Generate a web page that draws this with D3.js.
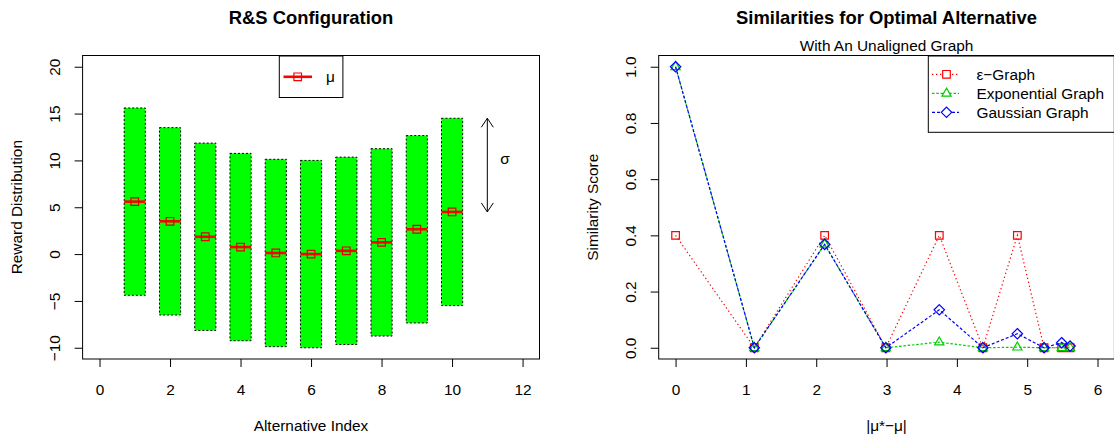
<!DOCTYPE html>
<html>
<head>
<meta charset="utf-8">
<title>R&amp;S Configuration</title>
<script src="https://d3js.org/d3.v7.min.js"></script>
<style>
body { margin:0; background:#fff; }
svg { display:block; font-family:"Liberation Sans", Arial, Helvetica, sans-serif; }
.title { font-size:18.4px; font-weight:bold; }
.lab { font-size:15.4px; fill:#000; }
.axis text { font-size:15.4px; fill:#000; font-family:"Liberation Sans", Arial, sans-serif; }
.axis line { stroke:#000; stroke-width:1; }
</style>
</head>
<body>
<svg id="chart" width="1114" height="437"></svg>
<script>
// ---------- left panel data ----------
var altIndex = [1, 2, 3, 4, 5, 6, 7, 8, 9, 10];
var rewardMean = [5.6, 3.5, 1.85, 0.75, 0.12, 0.0, 0.35, 1.25, 2.65, 4.5];
var rewardSd = [10, 10, 10, 10, 10, 10, 10, 10, 10, 10];
var leftXTicks = [0, 2, 4, 6, 8, 10, 12];
var leftYTicks = [-10, -5, 0, 5, 10, 15, 20];

// ---------- right panel data ----------
var muDiff = [0, 1.12, 2.12, 2.99, 3.75, 4.37, 4.86, 5.24, 5.49, 5.61];
var epsScore = [0.4, 0, 0.4, 0, 0.4, 0, 0.4, 0, 0, 0];
var expScore = [1.0, 0, 0.368, 0, 0.02, 0, 0.002, 0, 0, 0];
var gaussScore = [1.0, 0, 0.368, 0, 0.135, 0, 0.05, 0, 0.018, 0.006];
var rightXTicks = [0, 1, 2, 3, 4, 5, 6];
var rightYTicks = [0, 0.2, 0.4, 0.6, 0.8, 1.0];
var seriesNames = ["\u03b5\u2212Graph", "Exponential Graph", "Gaussian Graph"];

var svg = d3.select("#chart");
var plotTop = 55.5, plotBottom = 359;

// R-style markers (open symbols)
function marker(shape, x, y) {
    var p = d3.path();
    if (shape == "square") {
        var h = 3.8;
        p.rect(x - h, y - h, 2 * h, 2 * h);
    } else if (shape == "triangle") {
        p.moveTo(x, y - 5.2);
        p.lineTo(x + 4.6, y + 2.8);
        p.lineTo(x - 4.6, y + 2.8);
        p.closePath();
    } else {
        var r = 5.2;
        p.moveTo(x, y - r);
        p.lineTo(x + r, y);
        p.lineTo(x, y + r);
        p.lineTo(x - r, y);
        p.closePath();
    }
    return p.toString();
}

function drawAxes(x, y, xt, yt, yfmt) {
    var r = x.range();
    var gx = svg.append("g").attr("class", "axis")
        .attr("transform", "translate(0," + plotBottom + ")")
        .call(d3.axisBottom(x).tickValues(xt).tickSize(8).tickFormat(d3.format("d")));
    gx.select(".domain").remove();
    gx.selectAll(".tick text").attr("dy", null).attr("y", 35.5);

    var gy = svg.append("g").attr("class", "axis")
        .attr("transform", "translate(" + r[0] + ",0)")
        .call(d3.axisLeft(y).tickValues(yt).tickSize(8).tickFormat(yfmt));
    gy.select(".domain").remove();
    gy.selectAll(".tick text")
        .attr("x", null).attr("dy", null)
        .attr("text-anchor", "middle")
        .attr("transform", "translate(-22.6,0) rotate(-90)");

    svg.append("rect")
        .attr("x", r[0]).attr("y", plotTop)
        .attr("width", r[1] - r[0]).attr("height", plotBottom - plotTop)
        .attr("fill", "none").attr("stroke", "#000").attr("stroke-width", 1);
}

// ==================== Left: R&S Configuration ====================
var xL = d3.scaleLinear().domain([-0.48, 12.48]).range([82.6, 539.5]);
var yL = d3.scaleLinear().domain([-11.2, 21.2]).range([plotBottom, plotTop]);

svg.selectAll(".bar")
    .data(altIndex)
    .enter().append("rect")
    .attr("class", "bar")
    .attr("x", function(d) { return xL(d - 0.3); })
    .attr("width", function(d) { return xL(d + 0.3) - xL(d - 0.3); })
    .attr("y", function(d, i) { return yL(rewardMean[i] + rewardSd[i]); })
    .attr("height", function(d, i) { return yL(rewardMean[i] - rewardSd[i]) - yL(rewardMean[i] + rewardSd[i]); })
    .attr("fill", "#00ff00")
    .attr("stroke", "#000")
    .attr("stroke-width", 1)
    .attr("stroke-dasharray", "2,2");

svg.selectAll(".mean-line")
    .data(altIndex)
    .enter().append("line")
    .attr("class", "mean-line")
    .attr("x1", function(d) { return xL(d - 0.3); })
    .attr("x2", function(d) { return xL(d + 0.3); })
    .attr("y1", function(d, i) { return yL(rewardMean[i]); })
    .attr("y2", function(d, i) { return yL(rewardMean[i]); })
    .attr("stroke", "#ff0000")
    .attr("stroke-width", 2.6);

svg.selectAll(".mean-pt")
    .data(altIndex)
    .enter().append("path")
    .attr("class", "mean-pt")
    .attr("d", function(d, i) { return marker("square", xL(d), yL(rewardMean[i])); })
    .attr("fill", "none")
    .attr("stroke", "#e00000")
    .attr("stroke-width", 1.2);

drawAxes(xL, yL, leftXTicks, leftYTicks, d3.format("d"));

// sigma arrow
var ax = xL(11), ay1 = yL(14.5), ay2 = yL(4.5);
svg.append("line").attr("x1", ax).attr("x2", ax).attr("y1", ay1).attr("y2", ay2)
    .attr("stroke", "#000").attr("stroke-width", 1);
svg.append("path")
    .attr("d", "M" + (ax - 6) + "," + (ay1 + 9) + "L" + ax + "," + ay1 + "L" + (ax + 6) + "," + (ay1 + 9) +
               "M" + (ax - 6) + "," + (ay2 - 9) + "L" + ax + "," + ay2 + "L" + (ax + 6) + "," + (ay2 - 9))
    .attr("fill", "none").attr("stroke", "#000").attr("stroke-width", 1);
svg.append("text").attr("class", "lab")
    .attr("x", xL(11.5)).attr("y", yL(10) + 4)
    .attr("text-anchor", "middle").text("\u03c3");

// legend
svg.append("rect").attr("x", 279.3).attr("y", 56).attr("width", 63.6).attr("height", 41.5)
    .attr("fill", "#fff").attr("stroke", "#000").attr("stroke-width", 1);
svg.append("line").attr("x1", 283.5).attr("x2", 312).attr("y1", 76.8).attr("y2", 76.8)
    .attr("stroke", "#ff0000").attr("stroke-width", 2.6);
svg.append("path").attr("d", marker("square", 297.7, 76.8))
    .attr("fill", "none").attr("stroke", "#ff0000").attr("stroke-width", 1.2);
svg.append("text").attr("class", "lab").attr("x", 326).attr("y", 81.5).text("\u03bc");

svg.append("text").attr("class", "title").attr("x", 311).attr("y", 24)
    .attr("text-anchor", "middle").text("R&S Configuration");
svg.append("text").attr("class", "lab").attr("x", 311).attr("y", 431)
    .attr("text-anchor", "middle").text("Alternative Index");
svg.append("text").attr("class", "lab")
    .attr("transform", "translate(22,207.2) rotate(-90)")
    .attr("text-anchor", "middle").text("Reward Distribution");

// ==================== Right: Similarities ====================
var xR = d3.scaleLinear().domain([-0.24, 6.24]).range([658.7, 1114.4]);
var yR = d3.scaleLinear().domain([-0.04, 1.04]).range([plotBottom, plotTop]);

var series = [
    { name: seriesNames[0], values: epsScore, color: "#ff0000", dash: "1.3,2.7", shape: "square" },
    { name: seriesNames[1], values: expScore, color: "#00cd00", dash: "2.5,1.8", shape: "triangle" },
    { name: seriesNames[2], values: gaussScore, color: "#0000ff", dash: "3,2", shape: "diamond" }
];

var line = d3.line()
    .x(function(d, i) { return xR(muDiff[i]); })
    .y(function(d) { return yR(d); });

series.forEach(function(s) {
    svg.append("path")
        .attr("d", line(s.values))
        .attr("fill", "none")
        .attr("stroke", s.color)
        .attr("stroke-width", 1.2)
        .attr("stroke-dasharray", s.dash);
    svg.selectAll(".pt-" + s.shape)
        .data(s.values)
        .enter().append("path")
        .attr("class", "pt-" + s.shape)
        .attr("d", function(d, i) { return marker(s.shape, xR(muDiff[i]), yR(d)); })
        .attr("fill", "none")
        .attr("stroke", s.color)
        .attr("stroke-width", 1.2);
});

drawAxes(xR, yR, rightXTicks, rightYTicks, d3.format(".1f"));

// legend
svg.append("rect").attr("x", 928.3).attr("y", 56).attr("width", 186).attr("height", 76.3)
    .attr("fill", "#fff").attr("stroke", "#000").attr("stroke-width", 1);
series.forEach(function(s, i) {
    var ly = 74.3 + i * 19;
    svg.append("line").attr("x1", 932).attr("x2", 959).attr("y1", ly).attr("y2", ly)
        .attr("stroke", s.color).attr("stroke-width", 1.2).attr("stroke-dasharray", s.dash);
    svg.append("path").attr("d", marker(s.shape, 946.5, ly))
        .attr("fill", "#fff").attr("stroke", s.color).attr("stroke-width", 1.2);
    svg.append("text").attr("class", "lab").attr("x", 976.5).attr("y", ly + 5.5).text(s.name);
});

svg.append("text").attr("class", "title").attr("x", 886.5).attr("y", 24)
    .attr("text-anchor", "middle").text("Similarities for Optimal Alternative");
svg.append("text").attr("class", "lab").attr("x", 886.5).attr("y", 51)
    .attr("text-anchor", "middle").text("With An Unaligned Graph");
svg.append("text").attr("class", "lab").attr("x", 886.5).attr("y", 431)
    .attr("text-anchor", "middle").text("|\u03bc*\u2212\u03bc|");
svg.append("text").attr("class", "lab")
    .attr("transform", "translate(598,207.2) rotate(-90)")
    .attr("text-anchor", "middle").text("Similarity Score");
</script>
</body>
</html>
